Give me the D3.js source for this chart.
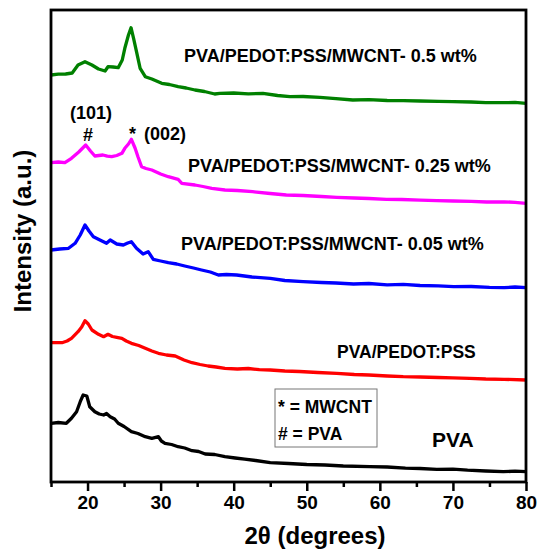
<!DOCTYPE html>
<html>
<head>
<meta charset="utf-8">
<script src="https://cdn.jsdelivr.net/npm/d3@7"></script>
<style>
  html, body { margin: 0; padding: 0; background: #fff; }
  svg { display: block; font-family: "Liberation Sans", Arial, sans-serif; font-weight: bold; }
</style>
</head>
<body>
<svg id="chart" width="540" height="550"></svg>
<script>
// XRD patterns (2θ in degrees, intensity in a.u., offset for stacking)
const pvaPattern = [[15,58.7],[16,59.5],[17.1,58.7],[17.8,63.7],[18.5,70.3],[19,80.3],[19.4,87],[19.9,86],[20.3,75.3],[21,70.3],[21.6,68],[22.2,67],[22.6,68.5],[23.1,65.3],[23.7,63],[24.2,58.7],[25,55.5],[26,50.3],[26.9,48.5],[27.9,45.3],[28.8,43.7],[29.7,45.3],[30.1,41],[30.6,38.7],[31.5,37.5],[32.4,35.3],[33.3,34],[34.3,31.3],[35.2,30.5],[36.1,28],[37.4,27.5],[38.8,25.3],[40.2,24],[41.5,22.8],[43,21.5],[45,19.3],[47.5,18.5],[50,17.5],[52.5,17],[55,16],[58.6,15.3],[61,15],[63.5,13.8],[65.5,13.5],[67.8,12.7],[70,12.8],[72,11.8],[74.5,11],[76.9,10.3],[78.5,10.8],[80,10.3]];

const pedotPattern = [[15,139.3],[16.5,139.3],[17.2,141],[17.8,143.7],[18.7,150.3],[19.2,155],[19.65,161.3],[20.1,158],[20.6,152],[21.5,147.7],[22.2,145.3],[22.8,147.7],[23.4,145.5],[24,144.7],[24.7,143.7],[25.3,141],[26,138.7],[27,136.5],[27.9,133.7],[28.8,131],[29.7,128.7],[30.8,127],[32,126],[33.2,122],[34.3,119.3],[35.4,117.5],[36.5,116],[37.6,115],[38.8,113.7],[40.5,113],[42,113.5],[43.5,112.3],[45,112],[47,111],[49,110.5],[51.5,109.5],[54.1,108.7],[56.5,107.5],[58.5,107],[61,106],[63.2,105.3],[65.5,105],[68,104.5],[70,104.2],[72.3,103.7],[74.5,103],[77,102.7],[80,102]];

const cnt005Pattern = [[15,232],[16.2,233],[17.4,233.7],[18.3,238.7],[19,247],[19.65,257],[20.2,251],[20.8,245.3],[21.9,241.3],[22.6,238.7],[23.1,242],[24,238],[24.9,237],[25.5,239],[26,240.3],[26.7,233.7],[27.6,228],[28.3,230.3],[29,222.7],[30,221],[31.05,219.3],[32.2,218],[33.3,216],[34.5,214],[35.6,212],[36.8,210],[37.9,207],[39,207.5],[40.4,207],[42.5,205],[45,203.7],[47,201.5],[49.5,200.3],[52,199.5],[54,199],[56.4,198],[58.5,198.5],[61,197.2],[63.2,197.7],[65.5,196.5],[68,196.2],[70.1,195.3],[72.5,195.5],[75,194.6],[77,194.3],[78.5,195],[80,194.3]];

const cnt025Pattern = [[15,319.3],[16,320],[16.9,319.3],[17.8,323.7],[18.8,330],[19.75,337],[20.4,331],[21,326],[22.1,327],[22.7,325.8],[23.3,325.3],[24,326.5],[24.7,328.7],[25.1,333.7],[25.6,338],[26,342.7],[26.5,334],[26.9,325.3],[27.4,315.3],[28,313.5],[28.8,312],[30,308],[31.05,305.3],[32.4,302.7],[32.9,298.7],[34.7,297],[35.8,295.5],[37,293.7],[38.8,292],[40.5,291.5],[42.6,290.3],[45,288.5],[47.2,287],[49.5,286.5],[52,285.5],[54.1,284.7],[56.5,284],[58.5,283.5],[60.9,282.7],[63,282.5],[65.5,281.8],[67.8,281.3],[70,281],[72.5,280.6],[74.6,280],[77,280.2],[78.5,279.6],[80,278.7]];

const cnt05Pattern = [[15,407],[16,407.8],[17,408],[17.9,409],[18.7,417],[19.65,420.3],[20.6,417],[21.5,413],[22.4,411],[22.8,415.3],[23.5,415],[24.2,414.3],[24.75,422],[25.1,433.7],[25.6,447],[25.95,454.3],[26.3,443.7],[26.7,430.3],[27.2,413.7],[27.9,405.3],[28.8,403],[30.15,398.7],[31.2,397.5],[32.4,395.3],[33.5,394],[34.7,392],[36,390.5],[37.4,388],[38.1,388.7],[40,389],[42,388.2],[44,388.7],[46,386.5],[47.7,385.3],[49.5,385.5],[51.8,384.7],[54,383.3],[56.3,382],[58.5,382.3],[61,381.5],[63.2,381.3],[65.5,381],[68,380.7],[70,380.3],[72.5,380],[74.5,379.3],[76.9,379.3],[78.5,379.6],[80,378.7]];

const seriesNames = ["PVA", "PVA/PEDOT:PSS", "PVA/PEDOT:PSS/MWCNT- 0.05 wt%", "PVA/PEDOT:PSS/MWCNT- 0.25 wt%", "PVA/PEDOT:PSS/MWCNT- 0.5 wt%"];
const seriesColors = ["#000000", "#ff0000", "#0000ff", "#ff00ff", "#008000"];
const seriesData = [pvaPattern, pedotPattern, cnt005Pattern, cnt025Pattern, cnt05Pattern];

const xMajorTicks = [20, 30, 40, 50, 60, 70, 80];
const xMinorTicks = [15, 25, 35, 45, 55, 65, 75];
const legendLines = ["* = MWCNT", "# = PVA"];

const svg = d3.select("#chart");
const plot = { left: 51, right: 526, top: 10, bottom: 482 };

const x = d3.scaleLinear().domain([15, 80]).range([plot.left, plot.right]);
const y = d3.scaleLinear().domain([0, 472]).range([plot.bottom, plot.top]);

const line = d3.line().x(d => x(d[0])).y(d => y(d[1]));

// curves
seriesData.forEach((data, i) => {
  svg.append("path")
    .datum(data)
    .attr("fill", "none")
    .attr("stroke", seriesColors[i])
    .attr("stroke-width", 3.3)
    .attr("stroke-linejoin", "round")
    .attr("d", line);
});

// bottom axis: major and minor ticks
const axisMajor = d3.axisBottom(x).tickValues(xMajorTicks).tickSize(9).tickFormat(d3.format("d"));
const gMajor = svg.append("g").attr("transform", `translate(0,${plot.bottom})`).call(axisMajor);
gMajor.select(".domain").remove();
gMajor.selectAll(".tick line").attr("stroke", "#000").attr("stroke-width", 2.5);
gMajor.selectAll(".tick text")
  .attr("y", 14)
  .attr("dy", "0.71em")
  .style("font-size", "19px")
  .style("font-weight", "bold")
  .style("font-family", "'Liberation Sans', Arial, sans-serif")
  .attr("fill", "#000");

const axisMinor = d3.axisBottom(x).tickValues(xMinorTicks).tickSize(5).tickFormat("");
const gMinor = svg.append("g").attr("transform", `translate(0,${plot.bottom})`).call(axisMinor);
gMinor.select(".domain").remove();
gMinor.selectAll(".tick line").attr("stroke", "#000").attr("stroke-width", 2.5);

// frame
svg.append("rect")
  .attr("x", plot.left).attr("y", plot.top)
  .attr("width", plot.right - plot.left).attr("height", plot.bottom - plot.top)
  .attr("fill", "none").attr("stroke", "#000").attr("stroke-width", 2.8);

// axis titles
svg.append("text")
  .attr("x", 315).attr("y", 544)
  .attr("text-anchor", "middle")
  .style("font-size", "24px")
  .text("2θ (degrees)");

svg.append("text")
  .attr("transform", "translate(31,231) rotate(-90)")
  .attr("text-anchor", "middle")
  .style("font-size", "24px")
  .text("Intensity (a.u.)");

// series labels
const labelPos = [
  { x: 432, y: 447, size: 21 },
  { x: 337, y: 358, size: 17.5 },
  { x: 181, y: 250, size: 18 },
  { x: 188, y: 172, size: 18 },
  { x: 184, y: 62, size: 18 }
];
seriesNames.forEach((name, i) => {
  svg.append("text")
    .attr("x", labelPos[i].x).attr("y", labelPos[i].y)
    .style("font-size", labelPos[i].size + "px")
    .attr("fill", "#000")
    .text(name);
});

// peak annotations
svg.append("text").attr("x", 91).attr("y", 119).attr("text-anchor", "middle").style("font-size", "18px").text("(101)");
svg.append("text").attr("x", 88).attr("y", 141).attr("text-anchor", "middle").style("font-size", "18px").text("#");
svg.append("text").attr("x", 129).attr("y", 140).style("font-size", "18px").text("*");
svg.append("text").attr("x", 144).attr("y", 140).style("font-size", "18px").text("(002)");

// marker legend box
svg.append("rect")
  .attr("x", 275).attr("y", 389).attr("width", 102).attr("height", 58)
  .attr("fill", "#fff").attr("stroke", "#777").attr("stroke-width", 1);
legendLines.forEach((t, i) => {
  svg.append("text")
    .attr("x", 278).attr("y", 413 + i * 26.5)
    .style("font-size", "17.5px")
    .text(t);
});
</script>
</body>
</html>
